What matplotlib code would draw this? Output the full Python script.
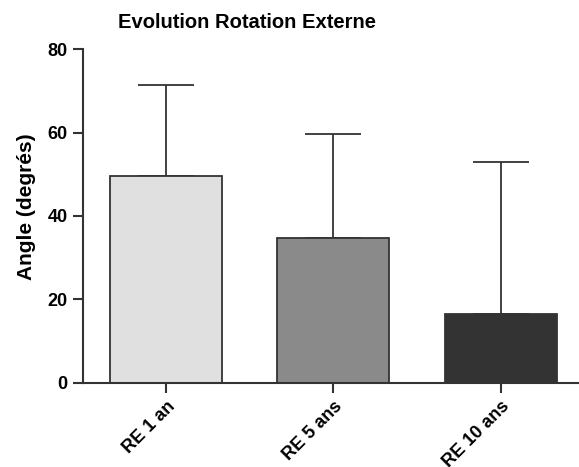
import numpy as np
import matplotlib.pyplot as plt

plt.rcParams['font.family'] = ['Liberation Sans', 'DejaVu Sans']
plt.rcParams['font.weight'] = 'bold'

# data
groups = ["RE 1 an", "RE 5 ans", "RE 10 ans"]
means = [49.6, 34.7, 16.4]
sd_up = [21.8, 24.9, 36.6]
colors = ["#e0e0e0", "#8a8a8a", "#333333"]

fig = plt.figure(figsize=(5.79, 4.67), dpi=100)
ax = fig.add_axes([0.143, 0.18, 0.86, 0.715])

x = np.arange(len(groups))
ax.bar(x, means, width=0.67, color=colors, edgecolor="#333333", linewidth=1.3, zorder=2)
ax.errorbar(x, means, yerr=[np.zeros(len(groups)), sd_up], fmt="none",
            ecolor="#333333", elinewidth=1.3, capsize=20, capthick=1.3, zorder=1)

ax.set_xlim(-0.5, 2.48)
ax.set_ylim(0, 80)
ax.set_yticks([0, 20, 40, 60, 80])
ax.set_xticks(x)
ax.set_xticklabels(groups, rotation=45, ha="right", rotation_mode="anchor", fontsize=13)
ax.tick_params(axis="y", labelsize=13, length=7, width=1.5, color="#333333", pad=4)
ax.tick_params(axis="x", length=7, width=1.5, color="#333333")
for s in ["top", "right"]:
    ax.spines[s].set_visible(False)
for s in ["left", "bottom"]:
    ax.spines[s].set_linewidth(1.5)
    ax.spines[s].set_color("#333333")

ax.set_ylabel("Angle (degrés)", fontsize=15, fontweight="bold")
ax.yaxis.set_label_coords(-0.093, 0.527)
fig.text(0.427, 0.952, "Evolution Rotation Externe", ha="center", va="center",
         fontsize=14.5, fontweight="bold")

fig.savefig("out.png", dpi=100)
